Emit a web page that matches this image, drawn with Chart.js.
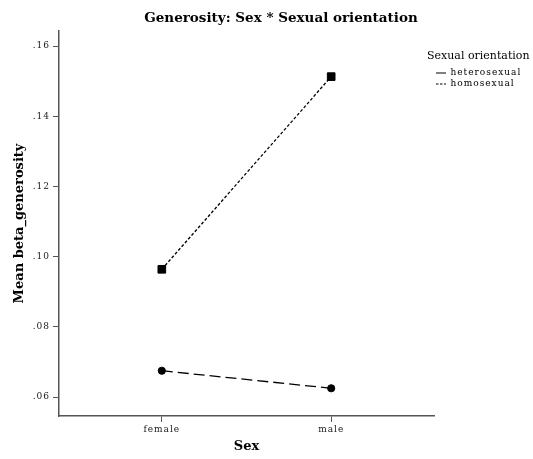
<!DOCTYPE html>
<html>
<head>
<meta charset="utf-8">
<title>Generosity: Sex * Sexual orientation</title>
<style>
  html, body { margin: 0; padding: 0; background: #ffffff; }
  #wrap { width: 533px; height: 459px; }
</style>
<script src="https://cdn.jsdelivr.net/npm/chart.js@4/dist/chart.umd.min.js"></script>
</head>
<body>
<div id="wrap"><canvas id="chart" width="533" height="459"></canvas></div>
<script>
// Estimated marginal means of beta_generosity
const sexCategories = ['female', 'male'];
const orientationNames = ['heterosexual', 'homosexual'];
const heterosexualMeans = [0.0675, 0.0625];
const homosexualMeans = [0.0964, 0.1513];
const yTickValues = [0.06, 0.08, 0.10, 0.12, 0.14, 0.16];

const FONT = 'DejaVu Serif';
const AXIS_COLOR = '#555555';
const TEXT_COLOR = '#1a1a1a';
const LEGEND_ITEM_INDENT = 7;

// Canvas letter spacing (and an optional shift) around a draw routine
function withSpacing(fn, spacing, dx) {
  return function (...args) {
    const ctx = this.ctx;
    ctx.save();
    ctx.letterSpacing = spacing;
    if (dx) ctx.translate(dx, 0);
    const r = fn.apply(this, args);
    ctx.restore();
    return r;
  };
}

const layoutTweaks = {
  id: 'layoutTweaks',
  afterLayout(chart) {
    // title centred a little right of the canvas centre
    const tb = chart.titleBlock;
    if (tb) { tb.left = 14.5; tb.right = chart.width + 14.5; }
    // legend block at the top right, beside the plot
    const lg = chart.legend;
    if (lg) {
      lg.left = 427; lg.top = 50.5;
      lg.width = chart.width - lg.left; lg.right = chart.width;
      lg.height = 60; lg.bottom = lg.top + lg.height;
    }
  },
  beforeDraw(chart) {
    Object.values(chart.scales).forEach(s => {
      if (!s.__spaced) { s.drawLabels = withSpacing(s.drawLabels, '1px'); s.__spaced = true; }
    });
    const lg = chart.legend;
    if (lg && !lg.__spaced) {
      // items indented under the title, which stays flush left and unspaced
      lg._draw = withSpacing(lg._draw, '1px', LEGEND_ITEM_INDENT);
      ['drawTitle', '_drawTitle'].forEach(name => {
        if (typeof lg[name] === 'function') lg[name] = withSpacing(lg[name], '0px', -LEGEND_ITEM_INDENT);
      });
      lg.__spaced = true;
    }
  }
};

const legendDashes = [[], [2.5, 1.5]];

new Chart(document.getElementById('chart'), {
  type: 'line',
  data: {
    datasets: [
      {
        label: orientationNames[0],
        data: heterosexualMeans.map((v, i) => ({ x: i, y: v })),
        borderColor: '#000000',
        backgroundColor: '#000000',
        borderWidth: 1.3,
        borderDash: [11, 5],
        pointStyle: 'circle',
        pointRadius: 3.6,
        pointBackgroundColor: '#000000',
        pointBorderColor: '#000000',
        pointBorderWidth: 1,
        fill: false,
        tension: 0
      },
      {
        label: orientationNames[1],
        data: homosexualMeans.map((v, i) => ({ x: i, y: v })),
        borderColor: '#000000',
        backgroundColor: '#000000',
        borderWidth: 1.3,
        borderDash: [3, 2],
        pointStyle: 'rect',
        pointRadius: 5.4,
        pointBackgroundColor: '#000000',
        pointBorderColor: '#000000',
        pointBorderWidth: 1,
        fill: false,
        tension: 0
      }
    ]
  },
  options: {
    responsive: false,
    animation: false,
    events: [],
    layout: { padding: { left: 0, right: 99, top: 0, bottom: 0 } },
    scales: {
      x: {
        type: 'linear',
        min: -0.607,
        max: 1.607,
        afterBuildTicks: s => { s.ticks = sexCategories.map((c, i) => ({ value: i })); },
        afterFit: s => { s.height = 43; },
        ticks: {
          callback: v => sexCategories[v],
          font: { family: FONT, size: 9 },
          color: TEXT_COLOR,
          padding: 2,
          autoSkip: false,
          maxRotation: 0
        },
        grid: { display: true, drawOnChartArea: false, drawTicks: true, tickLength: 6, color: AXIS_COLOR, lineWidth: 1 },
        border: { display: true, color: AXIS_COLOR, width: 1.5 },
        title: {
          display: true,
          text: 'Sex',
          color: '#000000',
          font: { family: FONT, size: 13, weight: 'bold' },
          padding: { top: 0, bottom: 4.2 }
        }
      },
      y: {
        type: 'linear',
        min: 0.0546,
        max: 0.1643,
        afterBuildTicks: s => { s.ticks = yTickValues.map(v => ({ value: v })); },
        afterFit: s => { s.width = 59; },
        ticks: {
          callback: v => v.toFixed(2).replace(/^0/, ''),
          font: { family: FONT, size: 9 },
          color: TEXT_COLOR,
          padding: 3
        },
        grid: { display: true, drawOnChartArea: false, drawTicks: true, tickLength: 6, color: AXIS_COLOR, lineWidth: 1 },
        border: { display: true, color: AXIS_COLOR, width: 1.5 },
        title: {
          display: true,
          text: 'Mean beta_generosity',
          color: '#000000',
          font: { family: FONT, size: 13, weight: 'bold' },
          padding: { top: 12.2, bottom: 0 }
        }
      }
    },
    plugins: {
      title: {
        display: true,
        text: 'Generosity: Sex * Sexual orientation',
        color: '#000000',
        font: { family: FONT, size: 13.5, weight: 'bold', lineHeight: 1.2 },
        padding: { top: 10, bottom: 4.8 }
      },
      legend: {
        display: true,
        position: 'chartArea',
        align: 'start',
        title: {
          display: true,
          text: 'Sexual orientation',
          color: '#000000',
          position: 'start',
          font: { family: FONT, size: 11, lineHeight: 1.2 },
          padding: { top: 0, bottom: 2.8 }
        },
        labels: {
          usePointStyle: true,
          pointStyleWidth: 10,
          boxHeight: 9,
          padding: 2,
          color: '#000000',
          font: { family: FONT, size: 9 },
          generateLabels: chart => chart.data.datasets.map((ds, i) => ({
            text: ds.label,
            datasetIndex: i,
            hidden: false,
            pointStyle: 'line',
            lineDash: legendDashes[i],
            lineWidth: 1,
            strokeStyle: '#000000',
            fillStyle: '#000000',
            fontColor: '#000000'
          }))
        }
      },
      tooltip: { enabled: false }
    }
  },
  plugins: [layoutTweaks]
});
</script>
</body>
</html>
